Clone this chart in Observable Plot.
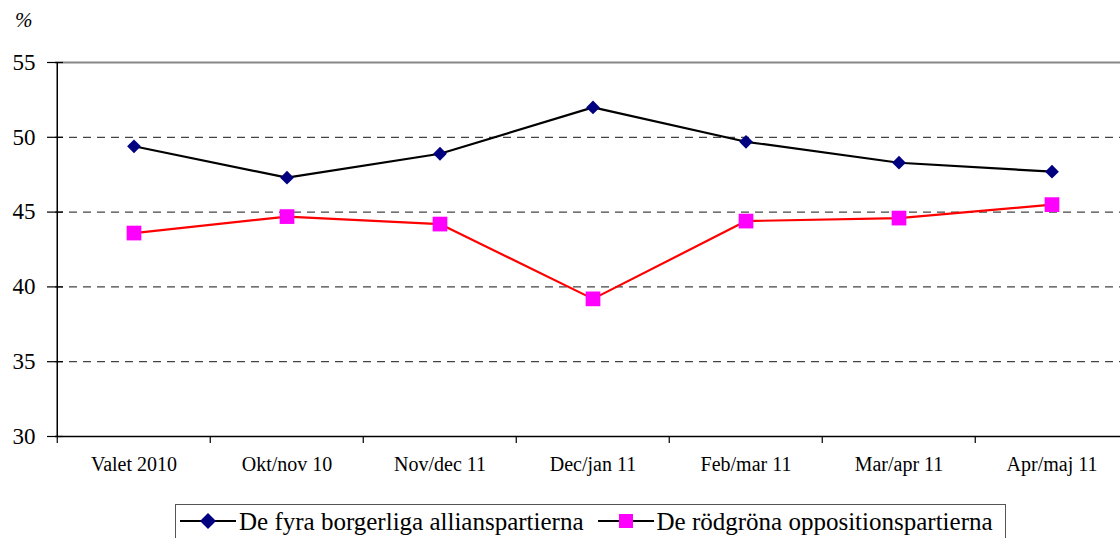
<!DOCTYPE html>
<html>
<head>
<meta charset="utf-8">
<script src="https://cdn.jsdelivr.net/npm/d3@7"></script>
<script src="https://cdn.jsdelivr.net/npm/@observablehq/plot@0.6"></script>
<style>
  body { margin: 0; background: #fff; width: 1120px; height: 538px; overflow: hidden; position: relative; font-family: "Liberation Serif", serif; }
  svg text { font-family: "Liberation Serif", serif !important; }
  #pct { position: absolute; left: 15px; top: 10px; font-size: 21px; font-style: italic; line-height: 1; }
  #legend { position: absolute; left: 175px; top: 504px; width: 831px; height: 40px; border: 1.5px solid #555; box-sizing: border-box; display: flex; align-items: flex-start; font-size: 25px; white-space: nowrap; line-height: 1; }
  #legend .item { display: flex; align-items: center; height: 32px; }
  #legend svg { display: block; }
</style>
</head>
<body>
<div id="pct">%</div>
<div id="chart"></div>
<div id="legend"></div>
<script>
const categories = ["Valet 2010", "Okt/nov 10", "Nov/dec 11", "Dec/jan 11", "Feb/mar 11", "Mar/apr 11", "Apr/maj 11"];
const seriesNames = ["De fyra borgerliga allianspartierna", "De rödgröna oppositionspartierna"];
const alliansValues = [49.4, 47.3, 48.9, 52.0, 49.7, 48.3, 47.7];
const oppositionValues = [43.6, 44.7, 44.2, 39.2, 44.4, 44.6, 45.5];
const yTicks = [30, 35, 40, 45, 50, 55];
const gridTicks = [35, 40, 45, 50];

const data = [];
categories.forEach((c, i) => {
  data.push({cat: c, value: alliansValues[i], series: seriesNames[0]});
  data.push({cat: c, value: oppositionValues[i], series: seriesNames[1]});
});
const allians = data.filter(d => d.series === seriesNames[0]);
const opposition = data.filter(d => d.series === seriesNames[1]);

const left = 55, right = 1129.5;
const bw = (right - left) / categories.length;

const font = "Liberation Serif";
const chart = Plot.plot({
  width: 1120,
  height: 500,
  marginLeft: 55,
  marginRight: 0,
  marginTop: 62,
  marginBottom: 64,
  style: {fontFamily: font, background: "white", overflow: "visible"},
  x: {type: "band", domain: categories, range: [left, right], padding: 0},
  y: {domain: [30, 55], range: [436, 62]},
  marks: [
    Plot.ruleY(gridTicks, {stroke: "#444", strokeWidth: 1.3, strokeDasharray: "8,6"}),
    Plot.ruleY([55], {stroke: "#888", strokeWidth: 2}),
    Plot.ruleY([30], {stroke: "#000", strokeWidth: 1.5}),
    Plot.ruleX([categories[0]], {y1: 30, y2: 55, dx: -bw / 2, stroke: "#000", strokeWidth: 1.5}),
    Plot.ruleX(categories, {y1: 30, y2: 30, dx: -bw / 2, insetBottom: -7, stroke: "#000", strokeWidth: 1.2}),
    Plot.axisY(yTicks, {tickSize: 8, tickPadding: 12, fontSize: 23, fontFamily: font, fill: "#000", stroke: "#000", strokeWidth: 1.2, label: null}),
    Plot.axisY(yTicks, {tickSize: -8, tickFormat: () => "", stroke: "#000", strokeWidth: 1.2, label: null}),
    Plot.axisX({tickSize: 0, tickPadding: 20, fontSize: 20, fontFamily: font, fill: "#000", label: null}),
    Plot.line(allians, {x: "cat", y: "value", stroke: "#000", strokeWidth: 2.2}),
    Plot.line(opposition, {x: "cat", y: "value", stroke: "#ff0000", strokeWidth: 2.2}),
    Plot.dot(allians, {x: "cat", y: "value", symbol: "diamond2", r: 6.2, fill: "#000080", stroke: "none"}),
    Plot.dot(opposition, {x: "cat", y: "value", symbol: "square", r: 8.3, fill: "#ff00ff", stroke: "none"})
  ]
});
document.getElementById("chart").appendChild(chart);

// legend
const legend = document.getElementById("legend");
const swatches = [
  {name: seriesNames[0], fill: "#000080", shape: "diamond"},
  {name: seriesNames[1], fill: "#ff00ff", shape: "square"}
];
swatches.forEach((s, i) => {
  const item = document.createElement("div");
  item.className = "item";
  item.style.marginLeft = i === 0 ? "4px" : "14px";
  const shape = s.shape === "diamond"
    ? `<path d="M28 6 L36 14 L28 22 L20 14 Z" fill="${s.fill}"/>`
    : `<rect x="21" y="7" width="14" height="14" fill="${s.fill}"/>`;
  item.innerHTML = `<svg width="59" height="28"><line x1="0" x2="56" y1="14" y2="14" stroke="#000" stroke-width="2"/>${shape}</svg><span>${s.name}</span>`;
  legend.appendChild(item);
});
</script>
</body>
</html>
